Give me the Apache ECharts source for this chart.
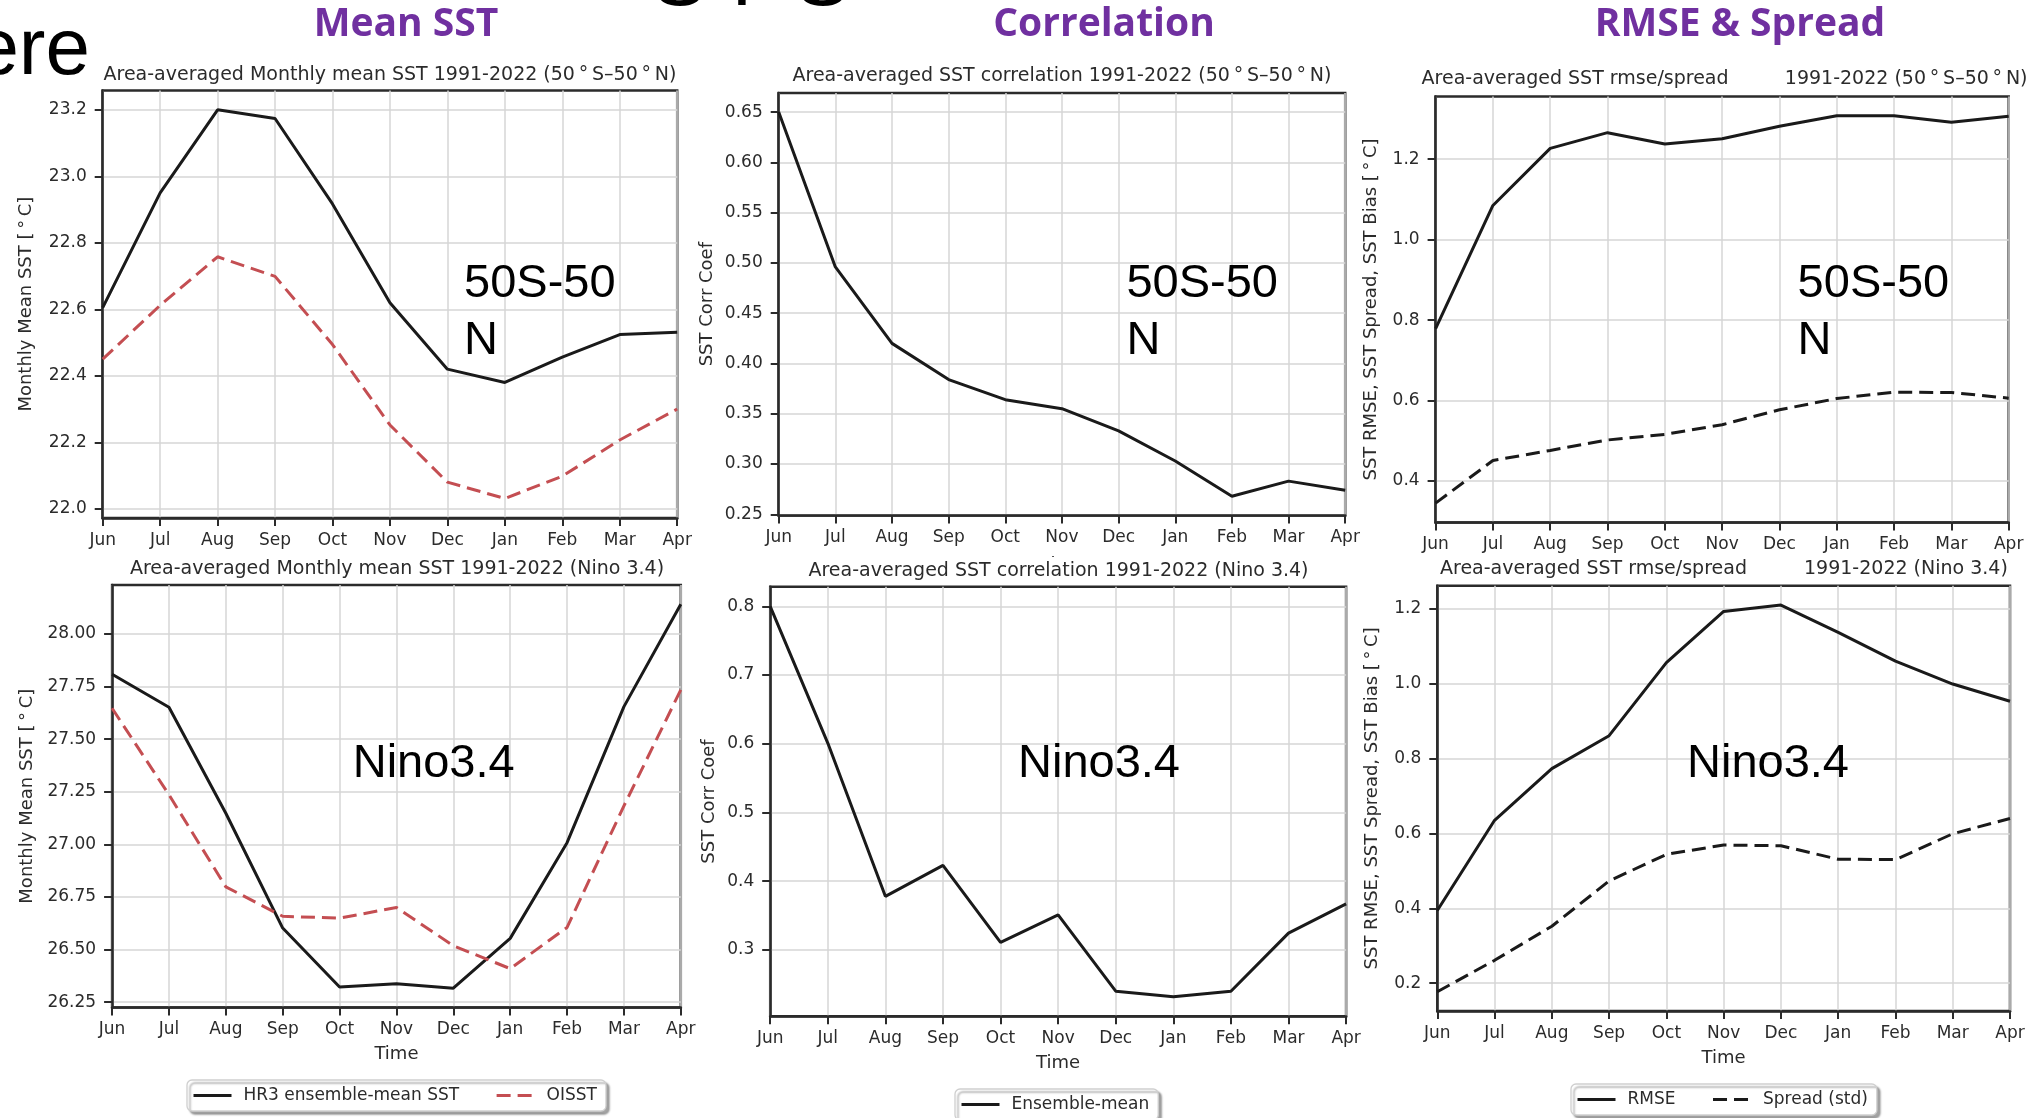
<!DOCTYPE html>
<html><head><meta charset="utf-8">
<script src="https://cdn.jsdelivr.net/npm/echarts@6/dist/echarts.min.js"></script>
<style>html,body{margin:0;padding:0;background:#fff}#c{width:2026px;height:1118px}</style>
</head><body><div id="c"></div>
<script>
// ---------------- data ----------------
const months = ['Jun','Jul','Aug','Sep','Oct','Nov','Dec','Jan','Feb','Mar','Apr'];

const hr3Mean5050   = [22.605, 22.95, 23.20, 23.174, 22.917, 22.62, 22.42, 22.38, 22.456, 22.524, 22.531];
const oisstMean5050 = [22.45, 22.612, 22.758, 22.699, 22.494, 22.252, 22.08, 22.031, 22.098, 22.207, 22.30];
const corr5050      = [0.65, 0.496, 0.42, 0.384, 0.364, 0.355, 0.333, 0.303, 0.268, 0.283, 0.274];
const rmse5050      = [0.779, 1.085, 1.227, 1.266, 1.238, 1.251, 1.282, 1.308, 1.308, 1.292, 1.307];
const spread5050    = [0.345, 0.451, 0.476, 0.502, 0.516, 0.540, 0.577, 0.605, 0.621, 0.620, 0.606];

const hr3MeanNino   = [27.809, 27.652, 27.148, 26.602, 26.322, 26.337, 26.316, 26.553, 27.008, 27.655, 28.142];
const oisstMeanNino = [27.647, 27.236, 26.798, 26.658, 26.649, 26.70, 26.518, 26.409, 26.605, 27.183, 27.735];
const corrNino      = [0.80, 0.601, 0.378, 0.423, 0.311, 0.351, 0.240, 0.232, 0.240, 0.3245, 0.367];
const rmseNino      = [0.394, 0.635, 0.773, 0.861, 1.056, 1.193, 1.210, 1.137, 1.060, 0.999, 0.953];
const spreadNino    = [0.177, 0.261, 0.352, 0.473, 0.544, 0.569, 0.567, 0.531, 0.530, 0.599, 0.640];

const ticksMean5050 = [22.0, 22.2, 22.4, 22.6, 22.8, 23.0, 23.2];
const ticksCorr5050 = [0.25, 0.30, 0.35, 0.40, 0.45, 0.50, 0.55, 0.60, 0.65];
const ticksRmse5050 = [0.4, 0.6, 0.8, 1.0, 1.2];
const ticksMeanNino = [26.25, 26.50, 26.75, 27.00, 27.25, 27.50, 27.75, 28.00];
const ticksCorrNino = [0.3, 0.4, 0.5, 0.6, 0.7, 0.8];
const ticksRmseNino = [0.2, 0.4, 0.6, 0.8, 1.0, 1.2];

// ---------------- style / layout ----------------
const FONT = '"DejaVu Sans", sans-serif';
const INK = '#2b2b2b';
const GRIDC = '#d6d6d6';
const RED = '#c44e52';
const BLK = '#1a1a1a';
const LW = 3;

const layout = [
  {left: 102.7, top: 90.4,  width: 574.5, height: 427.5, gap: 67},
  {left: 778.7, top: 92.9,  width: 566.5, height: 422.5, gap: 62},
  {left: 1435.6, top: 96.4, width: 573.1, height: 426.1, gap: 55},
  {left: 112.1, top: 585,   width: 568.7, height: 422.4, gap: 76},
  {left: 770.2, top: 586.8, width: 575.9, height: 429.4, gap: 52},
  {left: 1437.3, top: 585.7, width: 572.7, height: 425.4, gap: 56}
];
const yNames = ['Monthly Mean SST [\u2009°\u2009C]', 'SST Corr Coef', 'SST RMSE, SST Spread, SST Bias [\u2009°\u2009C]',
                'Monthly Mean SST [\u2009°\u2009C]', 'SST Corr Coef', 'SST RMSE, SST Spread, SST Bias [\u2009°\u2009C]'];
const yTicks = [ticksMean5050, ticksCorr5050, ticksRmse5050, ticksMeanNino, ticksCorrNino, ticksRmseNino];
const yDec = [1, 2, 1, 2, 1, 1];

const pad = v => 0.05 * (v.max - v.min);

const grids = layout.map(l => ({
  left: l.left, top: l.top, width: l.width, height: l.height,
  show: true, borderColor: INK, borderWidth: 2.5, backgroundColor: '#fff',
  containLabel: false, outerBoundsMode: 'none'
}));

const xAxes = layout.map((l, i) => ({
  type: 'category', gridIndex: i, data: months, boundaryGap: false,
  axisLine: {show: true, onZero: false, lineStyle: {color: INK, width: 2.5}},
  axisTick: {show: true, length: 8, interval: 0, lineStyle: {color: INK, width: 2}},
  axisLabel: {show: true, interval: 0, margin: 14, color: INK, fontSize: 17, fontFamily: FONT},
  splitLine: {show: true, interval: 0, lineStyle: {color: GRIDC, width: 1.5}},
  name: i >= 3 ? 'Time' : '', nameLocation: 'middle', nameGap: 38,
  nameTextStyle: {color: INK, fontSize: 18, fontFamily: FONT}
}));

const yAxes = layout.map((l, i) => ({
  type: 'value', gridIndex: i, scale: true,
  min: v => v.min - pad(v), max: v => v.max + pad(v),
  axisLine: {show: true, onZero: false, lineStyle: {color: INK, width: 2.5}},
  axisTick: {show: true, length: 8, customValues: yTicks[i], lineStyle: {color: INK, width: 2}},
  axisLabel: {show: true, customValues: yTicks[i], margin: 16, color: INK, fontSize: 17, fontFamily: FONT,
              formatter: v => Number(v).toFixed(yDec[i])},
  splitLine: {show: true, lineStyle: {color: GRIDC, width: 1.5}},
  name: yNames[i], nameLocation: 'middle', nameGap: l.gap, nameRotate: 90,
  nameTextStyle: {color: INK, fontSize: 18, fontFamily: FONT}
}));

function line(name, idx, data, color, dashed) {
  return {
    type: 'line', name: name, xAxisIndex: idx, yAxisIndex: idx, data: data,
    showSymbol: false, symbol: 'none', z: 5, animation: false,
    itemStyle: {color: color},
    lineStyle: {color: color, width: LW, type: dashed ? [14, 7] : 'solid'}
  };
}

const series = [
  line('HR3 ensemble-mean SST', 0, hr3Mean5050, BLK, false),
  line('OISST', 0, oisstMean5050, RED, true),
  line('Ensemble-mean', 1, corr5050, BLK, false),
  line('RMSE', 2, rmse5050, BLK, false),
  line('Spread (std)', 2, spread5050, BLK, true),
  line('HR3 ensemble-mean SST', 3, hr3MeanNino, BLK, false),
  line('OISST', 3, oisstMeanNino, RED, true),
  line('Ensemble-mean', 4, corrNino, BLK, false),
  line('RMSE', 5, rmseNino, BLK, false),
  line('Spread (std)', 5, spreadNino, BLK, true)
];

const legendBase = {
  orient: 'horizontal', itemWidth: 38, itemHeight: 14, itemGap: 36, selectedMode: false,
  padding: [7, 9, 7, 5], backgroundColor: '#fff', borderColor: '#cfcfcf', borderWidth: 1.3, borderRadius: 5,
  shadowColor: 'rgba(0,0,0,0.35)', shadowOffsetX: 3, shadowOffsetY: 3, shadowBlur: 2,
  itemStyle: {opacity: 0},
  lineStyle: {width: LW},
  textStyle: {color: INK, fontSize: 17, fontFamily: FONT, padding: [0, 0, 0, 7]}
};
const legends = [
  Object.assign({}, legendBase, {data: ['HR3 ensemble-mean SST', 'OISST'], left: 187, top: 1080}),
  Object.assign({}, legendBase, {data: ['Ensemble-mean'], left: 955, top: 1089}),
  Object.assign({}, legendBase, {data: ['RMSE', 'Spread (std)'], left: 1571, top: 1084})
];

function txt(x, y, s, font, fill, align, valign, z) {
  return {type: 'text', x: x, y: y, z: z || 50, silent: true,
          style: {text: s, font: font, fill: fill, textAlign: align || 'left', textVerticalAlign: valign || 'middle'}};
}
const HEAD = 'bold 39px "Open Sans", sans-serif';
const SUB = '19px "DejaVu Sans", sans-serif';
const BIG = '47px "Liberation Sans", Arial, sans-serif';
const deg = '\u2009°\u2009';

const graphics = [
  // cut-off slide text
  txt(90, 52, 'ere', '80px "Liberation Sans", Arial, sans-serif', '#000', 'right', 'middle'),
  txt(653, -17, 'S', '80px "Liberation Sans", Arial, sans-serif', '#000', 'left', 'middle'),
  txt(742, -17, 'T', '80px "Liberation Sans", Arial, sans-serif', '#000', 'center', 'middle'),
  txt(796, -17, 'S', '80px "Liberation Sans", Arial, sans-serif', '#000', 'left', 'middle'),
  // purple section headers
  txt(406, 25, 'Mean SST', HEAD, '#7030A0', 'center'),
  txt(1104, 25, 'Correlation', HEAD, '#7030A0', 'center'),
  txt(1740, 25, 'RMSE & Spread', HEAD, '#7030A0', 'center'),
  // hidden "Time" under top-middle panel
  txt(1062, 565, 'Time', '18px "DejaVu Sans", sans-serif', INK, 'center', 'middle', 40),
  {type: 'rect', z: 45, silent: true, shape: {x: 1000, y: 557, width: 130, height: 26}, style: {fill: '#fff'}},
  // panel subtitles
  txt(390, 75, 'Area-averaged Monthly mean SST 1991-2022 (50' + deg + 'S–50' + deg + 'N)', SUB, INK, 'center'),
  txt(1062, 76, 'Area-averaged SST correlation 1991-2022 (50' + deg + 'S–50' + deg + 'N)', SUB, INK, 'center'),
  txt(1421.6, 79, 'Area-averaged SST rmse/spread', SUB, INK, 'left'),
  txt(1784.8, 79, '1991-2022 (50' + deg + 'S–50' + deg + 'N)', SUB, INK, 'left'),
  txt(397, 569, 'Area-averaged Monthly mean SST 1991-2022 (Nino 3.4)', SUB, INK, 'center'),
  txt(1058.5, 571, 'Area-averaged SST correlation 1991-2022 (Nino 3.4)', SUB, INK, 'center'),
  txt(1440, 569.5, 'Area-averaged SST rmse/spread', SUB, INK, 'left'),
  txt(1804, 569.5, '1991-2022 (Nino 3.4)', SUB, INK, 'left'),
  // big region annotations
  txt(464, 284, '50S-50', BIG, '#000', 'left'),
  txt(464, 341, 'N', BIG, '#000', 'left'),
  txt(1126.4, 284, '50S-50', BIG, '#000', 'left'),
  txt(1126.4, 341, 'N', BIG, '#000', 'left'),
  txt(1797.6, 284, '50S-50', BIG, '#000', 'left'),
  txt(1797.6, 341, 'N', BIG, '#000', 'left'),
  txt(352.7, 764, 'Nino3.4', BIG, '#000', 'left'),
  txt(1018, 764, 'Nino3.4', BIG, '#000', 'left'),
  txt(1687, 764, 'Nino3.4', BIG, '#000', 'left')
];

const chart = echarts.init(document.getElementById('c'), null, {renderer: 'canvas'});
chart.setOption({
  animation: false,
  backgroundColor: '#fff',
  grid: grids,
  xAxis: xAxes,
  yAxis: yAxes,
  legend: legends,
  series: series,
  graphic: graphics
});
</script>
</body></html>
